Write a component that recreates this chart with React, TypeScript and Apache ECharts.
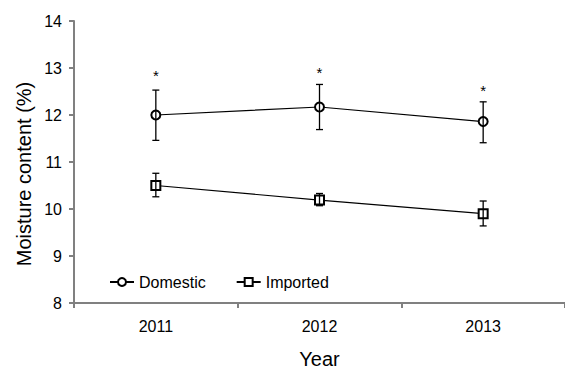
import React, { useEffect, useRef } from "react";
import * as echarts from "echarts";

const years = ["2011", "2012", "2013"];
const domestic = [12.0, 12.17, 11.86];
const domesticHigh = [12.53, 12.65, 12.28];
const domesticLow = [11.46, 11.69, 11.41];
const imported = [10.5, 10.19, 9.9];
const importedHigh = [10.76, 10.33, 10.17];
const importedLow = [10.26, 10.07, 9.64];
const starLevels = [12.84, 12.91, 12.53];
const yTicks = { min: 8, max: 14, interval: 1 };

const FONT = "'Liberation Sans', Arial, sans-serif";

function errorBarRender(params: any, api: any) {
  const x = api.value(0);
  const lo = api.coord([x, api.value(1)]);
  const hi = api.coord([x, api.value(2)]);
  const hw = 3.5;
  const st = { stroke: "#000", lineWidth: 1.3 };
  return {
    type: "group",
    children: [
      { type: "line", shape: { x1: lo[0], y1: lo[1], x2: hi[0], y2: hi[1] }, style: st },
      { type: "line", shape: { x1: lo[0] - hw, y1: lo[1], x2: lo[0] + hw, y2: lo[1] }, style: st },
      { type: "line", shape: { x1: hi[0] - hw, y1: hi[1], x2: hi[0] + hw, y2: hi[1] }, style: st },
    ],
  };
}

export default function App() {
  const ref = useRef<HTMLDivElement>(null);
  useEffect(() => {
    document.body.style.margin = "0";
    const chart = echarts.init(ref.current!, null, { renderer: "svg" });
    const axisColor = "#808080";
    chart.setOption({
      animation: false,
      textStyle: { fontFamily: FONT },
      grid: { left: 74, top: 21, width: 498, bottom: 61, containLabel: false },
      legend: {
        data: ["Domestic", "Imported"],
        left: 104,
        top: 269,
        itemWidth: 24,
        itemHeight: 10,
        itemGap: 30,
        textStyle: { fontSize: 16, color: "#000", fontFamily: FONT },
      },
      graphic: [
        {
          type: "text",
          x: 24,
          y: 174,
          rotation: Math.PI / 2,
          style: {
            text: "Moisture content (%)",
            fontSize: 20,
            fontFamily: FONT,
            fill: "#000",
            align: "center",
            verticalAlign: "middle",
          },
        },
      ],
      xAxis: {
        type: "category",
        data: years,
        boundaryGap: true,
        name: "Year",
        nameLocation: "middle",
        nameGap: 46,
        nameTextStyle: { fontSize: 20, color: "#000", fontFamily: FONT },
        axisLine: { lineStyle: { color: axisColor, width: 2 } },
        axisTick: { show: true, inside: false, length: 5, interval: 0, lineStyle: { color: axisColor, width: 2 } },
        axisLabel: { fontSize: 16, color: "#000", margin: 15, fontFamily: FONT },
        splitLine: { show: false },
      },
      yAxis: {
        type: "value",
        min: yTicks.min,
        max: yTicks.max,
        interval: yTicks.interval,
        axisLine: { show: true, lineStyle: { color: axisColor, width: 2 } },
        axisTick: { show: true, inside: false, length: 5, lineStyle: { color: axisColor, width: 2 } },
        axisLabel: { fontSize: 16, color: "#000", margin: 12, fontFamily: FONT },
        splitLine: { show: false },
      },
      series: [
        {
          name: "Domestic",
          type: "line",
          data: domestic,
          symbol: "emptyCircle",
          symbolSize: 9,
          lineStyle: { color: "#000", width: 1.2 },
          itemStyle: { color: "#000", borderWidth: 1.2 },
          z: 3,
        },
        {
          name: "Imported",
          type: "line",
          data: imported,
          symbol: "emptyRect",
          symbolSize: 9,
          lineStyle: { color: "#000", width: 1.2 },
          itemStyle: { color: "#000", borderWidth: 1.2 },
          z: 3,
        },
        {
          name: "DomesticErr",
          type: "custom",
          renderItem: errorBarRender,
          data: years.map((_, i) => [i, domesticLow[i], domesticHigh[i]]),
          encode: { x: 0, y: [1, 2] },
          z: 5,
        },
        {
          name: "ImportedErr",
          type: "custom",
          renderItem: errorBarRender,
          data: years.map((_, i) => [i, importedLow[i], importedHigh[i]]),
          encode: { x: 0, y: [1, 2] },
          z: 5,
        },
        {
          name: "Significance",
          type: "custom",
          renderItem: (params: any, api: any) => {
            const p = api.coord([api.value(0), api.value(1)]);
            return {
              type: "text",
              x: p[0],
              y: p[1],
              style: {
                text: "*",
                fontSize: 15,
                fontFamily: FONT,
                fill: "#000",
                align: "center",
                verticalAlign: "middle",
              },
            };
          },
          data: years.map((_, i) => [i, starLevels[i]]),
          encode: { x: 0, y: 1 },
          z: 5,
        },
      ],
    });
    return () => chart.dispose();
  }, []);
  return <div ref={ref} style={{ width: 565, height: 374 }} />;
}
